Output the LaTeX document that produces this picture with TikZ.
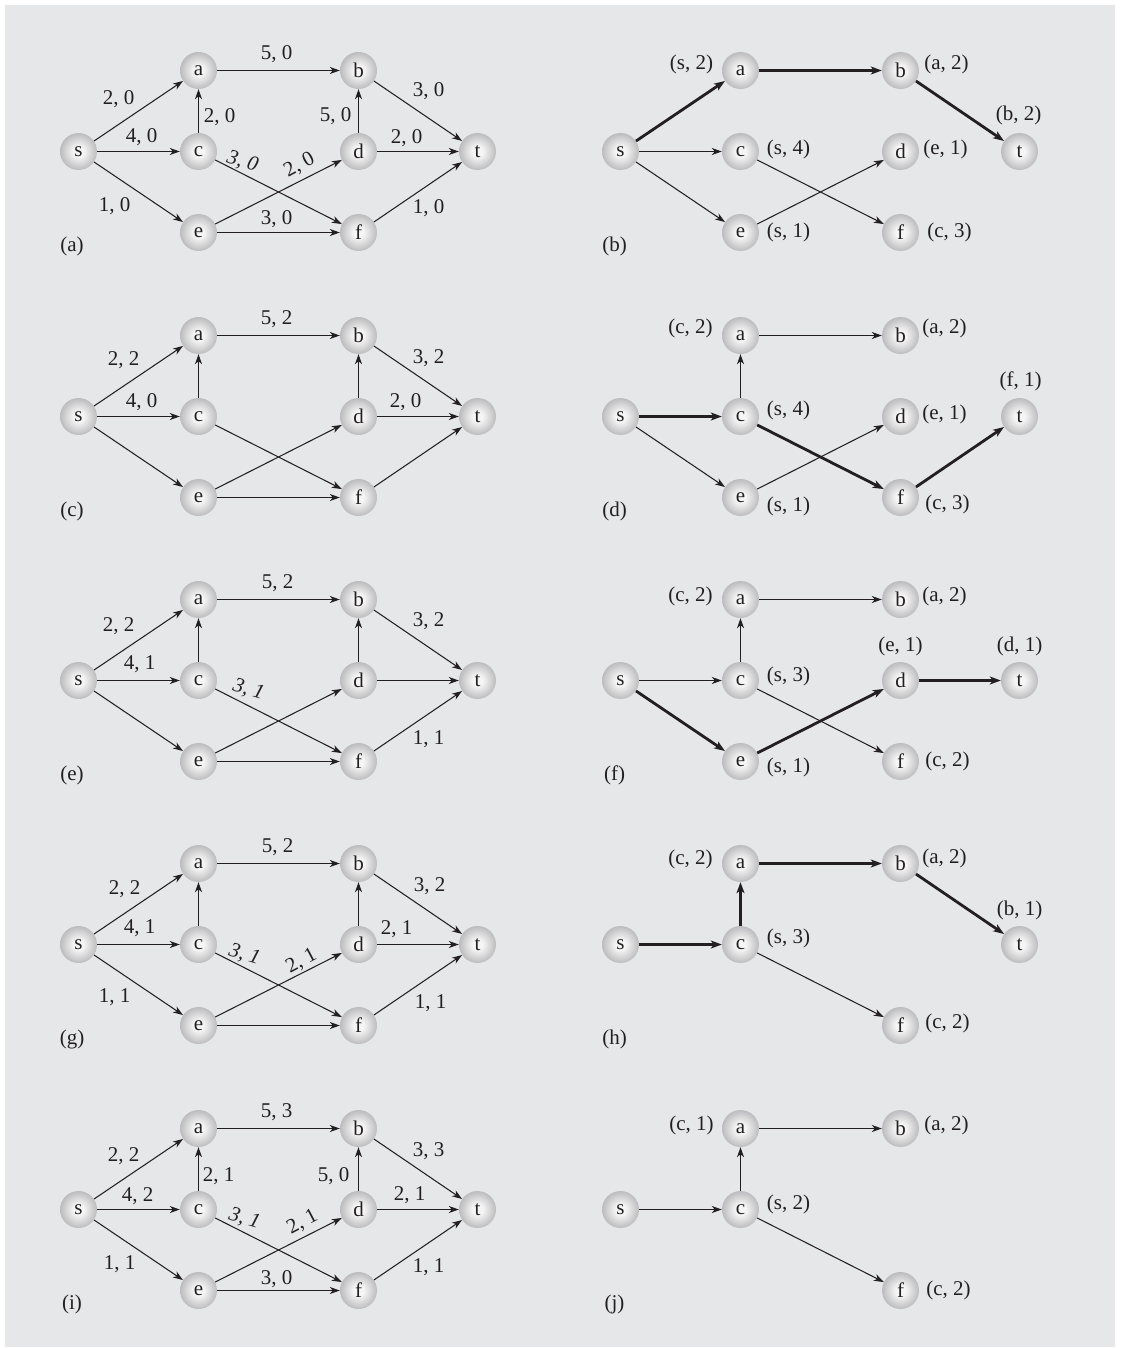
\documentclass[tikz,border=0pt]{standalone}
\usepackage{fontspec}
\setmainfont{Liberation Serif}
\usetikzlibrary{arrows.meta}
\definecolor{bgc}{RGB}{230,231,233}
\definecolor{ink}{RGB}{35,31,32}
\definecolor{vin}{RGB}{245,245,245}
\definecolor{vout}{RGB}{188,188,190}
\pgfdeclareradialshading{vball}{\pgfpoint{0bp}{0bp}}{color(0bp)=(vin); color(7bp)=(vin); color(25bp)=(vout); color(50bp)=(vout)}
\tikzset{
  vtx/.style={circle, minimum size=37pt, inner sep=0pt, shading=vball, font=\fontsize{21}{24}\selectfont, text=ink},
  lab/.style={inner sep=0pt, font=\fontsize{21}{24}\selectfont, text=ink},
  rlabdown/.style={lab, rotate=-17, font=\fontsize{21}{24}\selectfont\itshape},
  rlabup/.style={lab, rotate=28},
  edge/.style={draw=ink, line width=1.05pt, -{Stealth[length=10pt,width=7pt,inset=3pt]}},
  heavy/.style={line width=2.8pt, -{Stealth[length=11pt,width=8pt,inset=3pt]}},
}
\def\fullset{s/0/0,a/120/-81,c/120/0,e/120/81,b/280/-81,d/280/0,f/280/81,t/399/0}
\def\setH{s/0/0,a/120/-81,c/120/0,b/280/-81,f/280/81,t/399/0}
\def\setJ{s/0/0,a/120/-81,c/120/0,b/280/-81,f/280/81}
\newcommand\graphnodes[2]{\foreach \n/\x/\y in #2 {\node[vtx] (#1\n) at (\x,\y) {\n};}}
\newcommand\alledges[1]{\foreach \u/\v in {s/a,s/c,s/e,c/a,a/b,c/f,e/d,e/f,d/b,b/t,d/t,f/t}{\draw[edge] (#1\u) -- (#1\v);}}
\begin{document}
\begin{tikzpicture}[x=1pt,y=-1pt]
\useasboundingbox (0,0) rectangle (1120,1348);
\fill[bgc] (5,5) rectangle (1115,1347);

% ---------- (a)
\begin{scope}[shift={(78.5,151.5)}]
\graphnodes{A}{\fullset}
\alledges{A}
\node[lab] (Al-sa) at (40,-52) {2, 0};
\node[lab] (Al-sc) at (63,-14) {4, 0};
\node[lab] (Al-se) at (36,55) {1, 0};
\node[lab] (Al-ca) at (141,-34) {2, 0};
\node[lab] (Al-ab) at (198,-97) {5, 0};
\node[lab] (Al-ef) at (198,68) {3, 0};
\node[rlabdown] (Al-cf) at (164,10) {3, 0};
\node[rlabup] (Al-ed) at (221,14) {2, 0};
\node[lab] (Al-db) at (257,-35) {5, 0};
\node[lab] (Al-bt) at (350,-60) {3, 0};
\node[lab] (Al-dt) at (328,-13) {2, 0};
\node[lab] (Al-ft) at (350,57) {1, 0};
\node[lab] (Ap) at (-6.5,95) {(a)};
\end{scope}

% ---------- (b)
\begin{scope}[shift={(620.5,151.5)}]
\graphnodes{B}{\fullset}
\draw[edge,heavy] (Bs) -- (Ba);
\draw[edge,heavy] (Ba) -- (Bb);
\draw[edge,heavy] (Bb) -- (Bt);
\draw[edge] (Bs) -- (Bc);
\draw[edge] (Bs) -- (Be);
\draw[edge] (Bc) -- (Bf);
\draw[edge] (Be) -- (Bd);
\node[lab] (Bl-a) at ([shift={(-49,-6)}]Ba) {(s, 2)};
\node[lab] (Bl-b) at ([shift={(46,-6)}]Bb) {(a, 2)};
\node[lab] (Bl-t) at ([shift={(-1,-36)}]Bt) {(b, 2)};
\node[lab] (Bl-c) at ([shift={(48,-2)}]Bc) {(s, 4)};
\node[lab] (Bl-d) at ([shift={(45,-2)}]Bd) {(e, 1)};
\node[lab] (Bl-e) at ([shift={(48,0)}]Be) {(s, 1)};
\node[lab] (Bl-f) at ([shift={(49,0)}]Bf) {(c, 3)};
\node[lab] (Bp) at (-6,95) {(b)};
\end{scope}

% ---------- (c)
\begin{scope}[shift={(78.5,416.5)}]
\graphnodes{C}{\fullset}
\alledges{C}
\node[lab] (Cl-ab) at (198,-97) {5, 2};
\node[lab] (Cl-sa) at (45,-56) {2, 2};
\node[lab] (Cl-sc) at (63,-14) {4, 0};
\node[lab] (Cl-bt) at (350,-58) {3, 2};
\node[lab] (Cl-dt) at (327,-14) {2, 0};
\node[lab] (Cp) at (-6.5,95) {(c)};
\end{scope}

% ---------- (d)
\begin{scope}[shift={(620.5,416.5)}]
\graphnodes{D}{\fullset}
\draw[edge] (Dc) -- (Da);
\draw[edge] (Da) -- (Db);
\draw[edge] (Ds) -- (De);
\draw[edge] (De) -- (Dd);
\draw[edge,heavy] (Ds) -- (Dc);
\draw[edge,heavy] (Dc) -- (Df);
\draw[edge,heavy] (Df) -- (Dt);
\node[lab] (Dl-a) at ([shift={(-50,-7)}]Da) {(c, 2)};
\node[lab] (Dl-b) at ([shift={(44,-7)}]Db) {(a, 2)};
\node[lab] (Dl-t) at ([shift={(1,-35)}]Dt) {(f, 1)};
\node[lab] (Dl-c) at ([shift={(48,-6)}]Dc) {(s, 4)};
\node[lab] (Dl-d) at ([shift={(44,-2)}]Dd) {(e, 1)};
\node[lab] (Dl-e) at ([shift={(48,9)}]De) {(s, 1)};
\node[lab] (Dl-f) at ([shift={(47,7)}]Df) {(c, 3)};
\node[lab] (Dp) at (-6,95) {(d)};
\end{scope}

% ---------- (e)
\begin{scope}[shift={(78.5,680.5)}]
\graphnodes{E}{\fullset}
\alledges{E}
\node[lab] (El-ab) at (199,-97) {5, 2};
\node[lab] (El-sa) at (40,-54) {2, 2};
\node[lab] (El-sc) at (61,-16) {4, 1};
\node[rlabdown] (El-cf) at (170,9) {3, 1};
\node[lab] (El-bt) at (350,-59) {3, 2};
\node[lab] (El-ft) at (350,59) {1, 1};
\node[lab] (Ep) at (-6.5,95) {(e)};
\end{scope}

% ---------- (f)
\begin{scope}[shift={(620.5,680.5)}]
\graphnodes{F}{\fullset}
\draw[edge] (Fc) -- (Fa);
\draw[edge] (Fa) -- (Fb);
\draw[edge] (Fs) -- (Fc);
\draw[edge] (Fc) -- (Ff);
\draw[edge,heavy] (Fs) -- (Fe);
\draw[edge,heavy] (Fe) -- (Fd);
\draw[edge,heavy] (Fd) -- (Ft);
\node[lab] (Fl-a) at ([shift={(-50,-3)}]Fa) {(c, 2)};
\node[lab] (Fl-b) at ([shift={(44,-3)}]Fb) {(a, 2)};
\node[lab] (Fl-d) at ([shift={(0,-34)}]Fd) {(e, 1)};
\node[lab] (Fl-t) at ([shift={(0,-34)}]Ft) {(d, 1)};
\node[lab] (Fl-c) at ([shift={(48,-4)}]Fc) {(s, 3)};
\node[lab] (Fl-e) at ([shift={(48,6)}]Fe) {(s, 1)};
\node[lab] (Fl-f) at ([shift={(47,0)}]Ff) {(c, 2)};
\node[lab] (Fp) at (-6,95) {(f)};
\end{scope}

% ---------- (g)
\begin{scope}[shift={(78.5,944.5)}]
\graphnodes{G}{\fullset}
\alledges{G}
\node[lab] (Gl-ab) at (199,-97) {5, 2};
\node[lab] (Gl-sa) at (46,-55) {2, 2};
\node[lab] (Gl-sc) at (61,-16) {4, 1};
\node[lab] (Gl-se) at (36,53) {1, 1};
\node[lab] (Gl-bt) at (351,-58) {3, 2};
\node[lab] (Gl-dt) at (318,-15) {2, 1};
\node[rlabdown] (Gl-cf) at (166,10) {3, 1};
\node[rlabup] (Gl-ed) at (223,17) {2, 1};
\node[lab] (Gl-ft) at (352,59) {1, 1};
\node[lab] (Gp) at (-6.5,95) {(g)};
\end{scope}

% ---------- (h)
\begin{scope}[shift={(620.5,944.5)}]
\graphnodes{H}{\setH}
\draw[edge,heavy] (Hs) -- (Hc);
\draw[edge,heavy] (Hc) -- (Ha);
\draw[edge,heavy] (Ha) -- (Hb);
\draw[edge,heavy] (Hb) -- (Ht);
\draw[edge] (Hc) -- (Hf);
\node[lab] (Hl-a) at ([shift={(-50,-4)}]Ha) {(c, 2)};
\node[lab] (Hl-b) at ([shift={(44,-5)}]Hb) {(a, 2)};
\node[lab] (Hl-t) at ([shift={(0,-34)}]Ht) {(b, 1)};
\node[lab] (Hl-c) at ([shift={(48,-6)}]Hc) {(s, 3)};
\node[lab] (Hl-f) at ([shift={(47,-2)}]Hf) {(c, 2)};
\node[lab] (Hp) at (-6,95) {(h)};
\end{scope}

% ---------- (i)
\begin{scope}[shift={(78.5,1209.5)}]
\graphnodes{I}{\fullset}
\alledges{I}
\node[lab] (Il-ab) at (198,-97) {5, 3};
\node[lab] (Il-sa) at (45,-53) {2, 2};
\node[lab] (Il-ca) at (140,-33) {2, 1};
\node[lab] (Il-sc) at (59,-13) {4, 2};
\node[lab] (Il-se) at (41,55) {1, 1};
\node[rlabdown] (Il-cf) at (166,9) {3, 1};
\node[rlabup] (Il-ed) at (224,13) {2, 1};
\node[lab] (Il-ef) at (198,70) {3, 0};
\node[lab] (Il-db) at (255,-33) {5, 0};
\node[lab] (Il-bt) at (350,-58) {3, 3};
\node[lab] (Il-dt) at (331,-14) {2, 1};
\node[lab] (Il-ft) at (350,58) {1, 1};
\node[lab] (Ip) at (-6.5,95) {(i)};
\end{scope}

% ---------- (j)
\begin{scope}[shift={(620.5,1209.5)}]
\graphnodes{J}{\setJ}
\draw[edge] (Js) -- (Jc);
\draw[edge] (Jc) -- (Ja);
\draw[edge] (Ja) -- (Jb);
\draw[edge] (Jc) -- (Jf);
\node[lab] (Jl-a) at ([shift={(-49,-3)}]Ja) {(c, 1)};
\node[lab] (Jl-b) at ([shift={(46,-3)}]Jb) {(a, 2)};
\node[lab] (Jl-c) at ([shift={(48,-5)}]Jc) {(s, 2)};
\node[lab] (Jl-f) at ([shift={(48,0)}]Jf) {(c, 2)};
\node[lab] (Jp) at (-6,95) {(j)};
\end{scope}
\end{tikzpicture}
\end{document}
